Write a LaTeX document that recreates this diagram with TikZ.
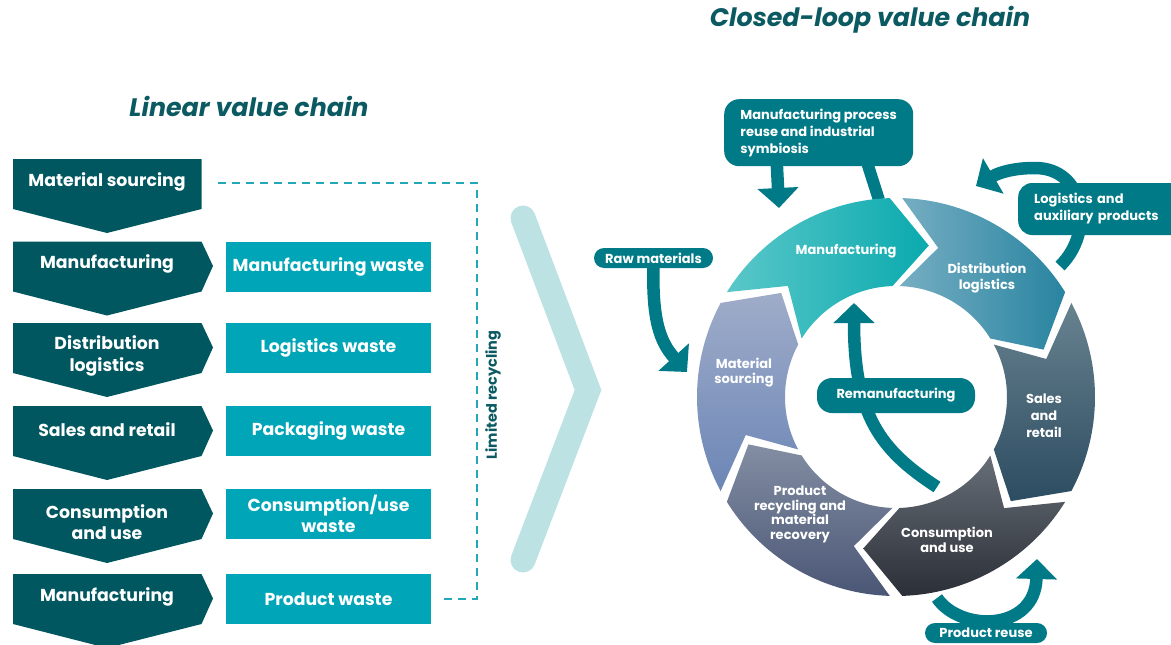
\documentclass[tikz,border=0pt]{standalone}
\usepackage{fontspec}
\setmainfont{Poppins}
\usetikzlibrary{arrows.meta}
\definecolor{chev}{HTML}{00575F}
\definecolor{waste}{HTML}{00A5B8}
\definecolor{acc}{HTML}{007A87}
\definecolor{ttl}{HTML}{0B5A62}
\definecolor{dsh}{HTML}{22A8B8}
\definecolor{bigc}{HTML}{BDE2E3}
\definecolor{mA}{HTML}{5AC7C9}\definecolor{mB}{HTML}{0AAAAE}
\definecolor{dA}{HTML}{76AEC3}\definecolor{dB}{HTML}{2884A0}
\definecolor{sA}{HTML}{68828F}\definecolor{sB}{HTML}{2C4C61}
\definecolor{cA}{HTML}{676E77}\definecolor{cB}{HTML}{2B2F37}
\definecolor{rA}{HTML}{838EA3}\definecolor{rB}{HTML}{4A5675}
\definecolor{qA}{HTML}{9FACC9}\definecolor{qB}{HTML}{6C86B6}
\newcommand\FntL{\fontsize{17.3}{21.5}\selectfont}
\newcommand\FntS{\fontsize{13}{15.5}\selectfont}
\newcommand\FntB{\fontsize{13}{17}\selectfont}
\newcommand\FntT{\fontsize{25.3}{29}\selectfont}
\newcommand\CircSeg[3]{%
  \pgfmathsetmacro\SegA{#1-1.8}\pgfmathsetmacro\SegB{#2+1.8}%
  \pgfmathsetmacro\SegAt{#1-1.8-14}\pgfmathsetmacro\SegBt{#2+1.8-14}%
  \path[#3] (\SegA:199) arc[start angle=\SegA, end angle=\SegB, radius=199]
    -- (\SegBt:155) -- (\SegB:111) arc[start angle=\SegB, end angle=\SegA, radius=111]
    -- (\SegAt:155) -- cycle;}
\pgfdeclarelayer{bg}
\pgfsetlayers{bg,main}
\begin{document}
\begin{tikzpicture}[x=1pt,y=-1pt,
  lt/.style={text=white, font=\FntL\bfseries, align=center, inner sep=0pt},
  wbox/.style={fill=waste, text=white, font=\FntL\bfseries, align=center,
    minimum width=205pt, minimum height=50pt, inner sep=0pt},
  cl/.style={text=white, font=\FntS\bfseries, align=center, inner sep=0pt},
  rbox/.style={fill=acc, text=white, font=\FntB\bfseries, align=center, inner sep=0pt},
  arr/.style={draw=acc, line width=12.5pt, -{Triangle[width=40pt,length=20pt]}},
  ttl/.style={text=ttl, font=\FntT\bfseries\itshape, inner sep=0pt},
  dashline/.style={draw=dsh, line width=1.6pt, dash pattern=on 8pt off 6pt}]
\useasboundingbox (0,0) rectangle (1171,645);

% titles
\node[ttl] (t1) at (249,106) {Linear value chain};
\node[ttl] (t2) at (870,20) {Closed-loop value chain};

% left chevrons
\fill[chev] (13,159) -- (201.5,159) -- (201.5,209) -- (107,233) -- (13,209) -- cycle;
\foreach \yy in {241.5,323,406,489,574}
  \fill[chev] (13,\yy) -- (201.5,\yy) -- (213,\yy+24.5) -- (201.5,\yy+50) -- (107,\yy+74) -- (13,\yy+50) -- cycle;
\node[lt] (l1) at (107,182) {Material sourcing};
\node[lt] (l2) at (107,264) {Manufacturing};
\node[lt] (l3) at (107,356) {Distribution\\logistics};
\node[lt] (l4) at (107,430) {Sales and retail};
\node[lt] (l5) at (107,522) {Consumption\\and use};
\node[lt] (l6) at (107,597) {Manufacturing};

% waste boxes
\node[wbox] (w2) at (328.5,266.5) {Manufacturing waste};
\node[wbox] (w3) at (328.5,347.5) {Logistics waste};
\node[wbox] (w4) at (328.5,431) {Packaging waste};
\node[wbox] (w5) at (328.5,514) {Consumption/use\\waste};
\node[wbox] (w6) at (328.5,599) {Product waste};

% limited recycling
\coordinate (dA) at (218,183);
\coordinate (dB) at (477,183);
\coordinate (dC) at (477,599);
\draw[dashline] (dA) -- (dB) -- (dC) -- ([xshift=12pt]w6.east);
\node[rotate=90, text=ttl, font=\fontsize{14.5}{16}\selectfont\bfseries, inner sep=0pt] (lr) at (493,395) {Limited recycling};

% right boxes
\node[rbox, anchor=north west, minimum width=189pt, minimum height=67pt, align=left, rounded corners=15pt] (mp) at (724,99)
  {Manufacturing process\\reuse and industrial\\symbiosis};
\node[rbox, anchor=west, text width=140pt, inner xsep=16pt, minimum height=52pt, align=left, rounded corners=14pt] (lg) at (1018,209)
  {Logistics and\\auxiliary products};
\node[rbox, minimum width=119pt, minimum height=20pt, rounded corners=10pt] (raw) at (653.5,258) {Raw materials};
\node[rbox, minimum width=158pt, minimum height=35pt, rounded corners=15pt] (reman) at (896,395.5) {Remanufacturing};
\node[rbox, minimum width=122pt, minimum height=20pt, rounded corners=10pt] (reuse) at (986,633) {Product reuse};

% circle labels
\node[cl] (cm) at (846,251) {Manufacturing};
\node[cl] (cd) at (987,278) {Distribution\\logistics};
\node[cl, font=\fontsize{13}{17}\selectfont\bfseries] (cs) at (1044,416) {Sales\\and\\retail};
\node[cl] (cc) at (947,540) {Consumption\\and use};
\node[cl, font=\fontsize{13}{14.5}\selectfont\bfseries] (cr) at (800,514.5) {Product\\recycling and\\material\\recovery};
\node[cl] (cq) at (744,372.5) {Material\\sourcing};

\coordinate (lgA) at (1060,266);
\coordinate (lgT) at (976,186);
\coordinate (mpT) at (779,208);
\coordinate (mpR) at (879,200);
\coordinate (rawT) at (687,372);
\coordinate (remA) at (937,487);
\coordinate (remT) at (854,303);
\coordinate (reuA) at (937,598);
\coordinate (reuT) at (1037,559);

\begin{pgfonlayer}{bg}
  \draw[bigc, line width=25pt, line cap=round, line join=miter] (523,218) -- (588,390) -- (523,560);
  \draw[acc, line width=12pt] ([xshift=48pt,yshift=5pt]mp.south) -- (mpR);
  \begin{scope}[shift={(896,397)}, x=1pt, y=1pt]
    \CircSeg{150}{90}{left color=mA, right color=mB}
    \CircSeg{90}{30}{left color=dA, right color=dB}
    \CircSeg{30}{-30}{top color=sA, bottom color=sB}
    \CircSeg{-30}{-90}{top color=cA, bottom color=cB}
    \CircSeg{-90}{-150}{top color=rA, bottom color=rB}
    \CircSeg{210}{150}{top color=qA, bottom color=qB}
  \end{scope}
  \draw[arr] ([xshift=-42pt,yshift=5pt]mp.south) -- (mpT);
  \draw[arr] (lgA) .. controls (1095,232) and (1085,168) .. (1035,168) .. controls (1015,168) and (1000,172) .. (lgT);
  \draw[arr] ([yshift=3pt]raw.south) .. controls (652,320) and (660,342) .. (rawT);
  \draw[arr] (remA) .. controls (880,450) and (854,415) .. (remT);
  \draw[arr] (reuA) .. controls (960,632) and (1035,632) .. (reuT);
\end{pgfonlayer}
\end{tikzpicture}
\end{document}
